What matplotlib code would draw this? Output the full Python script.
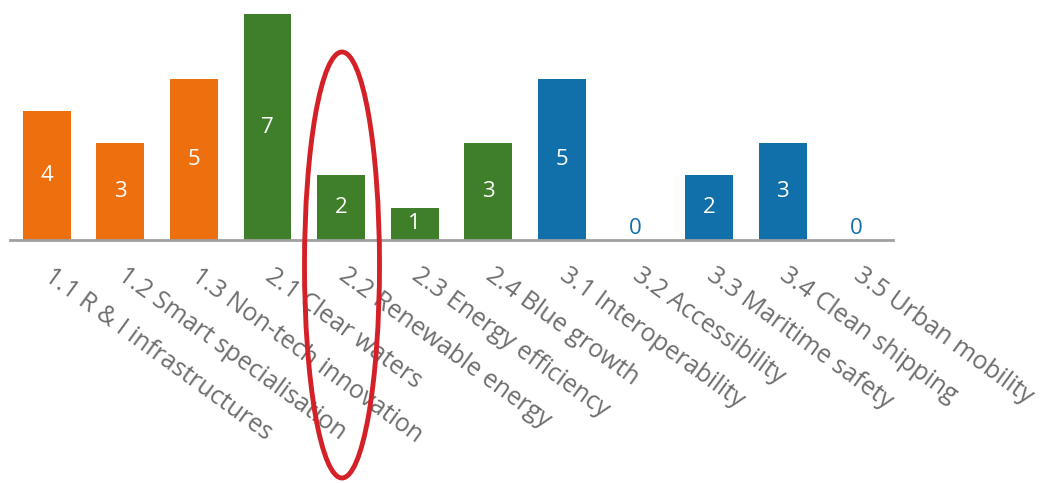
import matplotlib.pyplot as plt
from matplotlib.patches import Ellipse

labels = ["1.1 R & I infrastructures", "1.2 Smart specialisation", "1.3 Non-tech innovation",
          "2.1 Clear waters", "2.2 Renewable energy", "2.3 Energy efficiency", "2.4 Blue growth",
          "3.1 Interoperability", "3.2 Accessibility", "3.3 Maritime safety",
          "3.4 Clean shipping", "3.5 Urban mobility"]
values = [4, 3, 5, 7, 2, 1, 3, 5, 0, 2, 3, 0]
groups = [1, 1, 1, 2, 2, 2, 2, 3, 3, 3, 3, 3]

group_colors = {1: "#EE6F0E", 2: "#3F7F2A", 3: "#1170AA"}

plt.rcParams['font.family'] = ['Open Sans', 'DejaVu Sans']

fig = plt.figure(figsize=(10.46, 4.83), dpi=100)
ax = fig.add_axes([10 / 1046, 243 / 483, 883 / 1046, 226 / 483])

x = list(range(len(values)))
colors = [group_colors[g] for g in groups]
ax.bar(x, values, width=0.65, color=colors)

for i, v in enumerate(values):
    if v > 0:
        ax.text(i, v / 2, str(v), ha='center', va='center', color='white', fontsize=16)
    else:
        ax.text(i, 0.35, str(v), ha='center', va='center', color=colors[i], fontsize=16)

ax.set_xlim(-0.5, 11.5)
ax.set_ylim(0, 7)
for s in ['top', 'right', 'left']:
    ax.spines[s].set_visible(False)
ax.spines['bottom'].set_color('#A0A0A0')
ax.spines['bottom'].set_linewidth(2)
ax.set_yticks([])
ax.set_xticks(x)
ax.set_xticklabels(labels, rotation=-36, ha='left', va='center', rotation_mode='anchor',
                   fontsize=18, color='#6E6E6E')
ax.tick_params(axis='x', length=0, pad=24)

# red highlight ellipse around 2.2
ell = Ellipse((3.42, 2.18), 0.75, 4.26, transform=fig.dpi_scale_trans,
              fill=False, edgecolor='#D42027', linewidth=3.5, clip_on=False)
fig.add_artist(ell)

fig.savefig("out.png", dpi=100)
